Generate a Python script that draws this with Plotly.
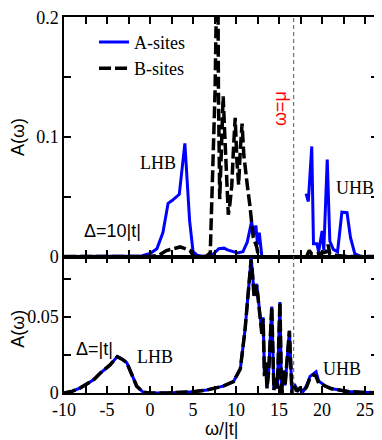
import plotly.graph_objects as go
from plotly.subplots import make_subplots

# top panel, Delta = 10|t|
x_a_top = [-10, -2, -1, 0, 0.8, 1.5, 2.1, 2.6, 3.4, 4.05, 4.6, 5.0, 5.5, 6.2, 7.2, 8.0, 8.6,
           9.0, 9.6, 10.2, 10.8, 11.3, 11.8, 12.1, 12.3, 12.5, 12.7, 13.0, None,
           18.14, 18.4, 18.8, 19.0, 19.4, 19.6, 20.0, 20.2, 20.6, 20.9, 21.3, 21.8, 22.3,
           22.9, 23.3, 23.8, 24.5, 26.5]
y_a_top = [0, 0, 0.0005, 0.0025, 0.0065, 0.02, 0.0445, 0.047, 0.052, 0.0946, 0.03, 0.004, 0.001,
           0, 0.001, 0.0065, 0.007, 0.0055, 0.004, 0.003, 0.004, 0.012, 0.029, 0.018, 0.026,
           0.01, 0.02, 0, None,
           0.0526, 0.046, 0.092, 0.0106, 0.0106, 0.004, 0.0214, 0.005, 0.081, 0.013, 0.006,
           0.004, 0.037, 0.0366, 0.016, 0.0024, 0, 0]

x_b_top = [-10, 0, 1.0, 1.9, 3.5, 4.65, 5.1, 6.5, 7.0, 7.2, 7.36, 7.56, 7.75, 7.85, 7.95, 8.1,
           8.3, 8.5, 8.7, 8.9, 9.1, 9.3, 9.5, 9.7, 9.9, 10.1, 10.3, 10.5, 10.7, 10.9, 11.1,
           11.3, 11.6, 12.0, 12.4, 12.6, None,
           18.2, 18.5, 18.8, 19.2, 20.0, 20.5, 20.7, 20.9, 21.5, 23.0, 26.5]
y_b_top = [0, 0, 0.001, 0.005, 0.008, 0.005, 0, 0, 0.003, 0.05, 0.092, 0.138, 0.23, 0.30, 0.14,
           0.048, 0.09, 0.134, 0.1, 0.06, 0.035, 0.045, 0.059, 0.09, 0.116, 0.08, 0.06, 0.09,
           0.111, 0.085, 0.07, 0.06, 0.043, 0.016, 0.008, 0, None,
           0, 0.005, 0.002, 0.002, 0.003, 0.004, 0.01, 0.002, 0.001, 0, 0]

# bottom panel, Delta = |t|
x_bot = [-10, -9, -8.1, -7.4, -6.5, -5.8, -4.65, -3.8, -3.3, -2.7, -2.1, -1.55, -0.8, 0, 2,
         3.5, 5, 6.6, 8.5, 9.7, 10.5, 11.05, 11.4, 11.75, 11.9, 12.1, 12.4, 12.6, 12.8, 13.0,
         13.15, 13.3, 13.45, 13.6, 13.8, 14.15, 14.4, 14.6, 14.8, 15.1, 15.3, 15.5, 15.7,
         15.9, 16.2, 16.5, 16.8, 17.1, 17.4, 17.8, 18.2, 18.6, 19.0, 19.3, 19.6, 20.0, 20.4,
         21.0, 22.0, 23.0, 24.5, 26.5]
y_a_bot = [0, 0.0012, 0.0034, 0.0056, 0.009, 0.013, 0.0185, 0.024, 0.0225, 0.02, 0.012, 0.0045,
           0.0005, 0, 0, 0.0002, 0.0008, 0.002, 0.0045, 0.0075, 0.016, 0.042, 0.068, 0.089,
           0.08, 0.064, 0.072, 0.06, 0.047, 0.04, 0.05, 0.012, 0.02, 0.004, 0.015, 0.057, 0.002,
           0.01, 0.003, 0.06, -0.004, 0.015, 0.005, 0.02, 0.041, 0.0, 0.006, 0.001, 0.003,
           0.001, 0.005, 0.011, 0.013, 0.014, 0.008, 0.006, 0.0045, 0.003, 0.002, 0.001,
           0.0005, 0]
y_b_bot = [0, 0.0012, 0.0034, 0.0056, 0.009, 0.013, 0.0185, 0.024, 0.0225, 0.02, 0.012, 0.0045,
           0.0005, 0, 0, 0.0002, 0.0008, 0.002, 0.0045, 0.0075, 0.016, 0.042, 0.068, 0.088,
           0.079, 0.063, 0.071, 0.059, 0.047, 0.039, 0.049, 0.011, 0.02, 0.003, 0.015, 0.057,
           0.002, 0.01, 0.003, 0.06, -0.005, 0.015, 0.005, 0.02, 0.041, 0.0, 0.006, 0.001,
           0.003, 0.001, 0.004, 0.01, 0.012, 0.011, 0.0065, 0.0055, 0.0045, 0.003, 0.002,
           0.001, 0.0005, 0]

x_ticks = [-10, -7.5, -5, -2.5, 0, 2.5, 5, 7.5, 10, 12.5, 15, 17.5, 20, 22.5, 25]
x_labels = ["-10", "", "-5", "", "0", "", "5", "", "10", "", "15", "", "20", "", "25"]
y_top_ticks = [0, 0.05, 0.1, 0.15, 0.2]
y_top_labels = ["0", "", "0.1", "", "0.2"]
y_bot_ticks = [0, 0.025, 0.05, 0.075]
y_bot_labels = ["0", "", "0.05", ""]

mu_line = 16.7

SERIF = "Liberation Serif, Times New Roman, serif"
SANS = "Liberation Sans, Arial, sans-serif"
BLUE = "#0000ff"
B_DASH = "12px,4px"

fig = make_subplots(rows=2, cols=1, shared_xaxes=True, vertical_spacing=0,
                    row_heights=[0.637, 0.363])

fig.add_trace(go.Scatter(x=x_a_top, y=y_a_top, mode="lines", name="A-sites",
                         line=dict(color=BLUE, width=3), connectgaps=False), row=1, col=1)
fig.add_trace(go.Scatter(x=x_b_top, y=y_b_top, mode="lines", name="B-sites",
                         line=dict(color="black", width=3.5, dash=B_DASH),
                         connectgaps=False), row=1, col=1)
fig.add_trace(go.Scatter(x=x_bot, y=y_a_bot, mode="lines", showlegend=False,
                         line=dict(color=BLUE, width=3)), row=2, col=1)
fig.add_trace(go.Scatter(x=x_bot, y=y_b_bot, mode="lines", showlegend=False,
                         line=dict(color="black", width=3.5, dash=B_DASH)), row=2, col=1)

axis_style = dict(showline=True, linecolor="black", linewidth=1.5, mirror="ticks",
                  ticks="inside", ticklen=7, tickwidth=1.5, tickcolor="black",
                  showgrid=False, zeroline=False, ticklabeloverflow="allow",
                  tickfont=dict(family=SERIF, size=18, color="black"))

fig.update_xaxes(range=[-10, 26.5], tickvals=x_ticks, ticktext=x_labels, **axis_style)
fig.update_xaxes(showticklabels=False, row=1, col=1)
fig.update_yaxes(range=[0, 0.2002], tickvals=y_top_ticks, ticktext=y_top_labels,
                 row=1, col=1, **axis_style)
fig.update_yaxes(range=[0, 0.09], tickvals=y_bot_ticks, ticktext=y_bot_labels,
                 row=2, col=1, **axis_style)

# the omega = mu line through both panels
fig.add_shape(type="line", xref="x", yref="paper", x0=mu_line, x1=mu_line, y0=0, y1=1,
              line=dict(color="#555555", width=1, dash="4px,3px"))

def note(text, x, y, xref="x", yref="y", font=SERIF, size=18, color="black", angle=0):
  fig.add_annotation(text=text, x=x, y=y, xref=xref, yref=yref, showarrow=False,
                     xanchor="center", yanchor="middle", textangle=angle,
                     font=dict(family=font, size=size, color=color))

note("LHB", 0.93, 0.078)
note("UHB", 23.84, 0.057)
note("Δ=10|t|", -4.42, 0.021, font=SANS)
note("ω=μ", 15.1, 0.124, font=SANS, color="red", angle=-90)
note("LHB", 0.58, 0.024, yref="y2")
note("UHB", 22.3, 0.0156, yref="y2")
note("Δ=|t|", -6.5, 0.029, yref="y2", font=SANS)
note("A(ω)", -0.146, 0.681, xref="paper", yref="paper", font=SANS, angle=-90)
note("A(ω)", -0.146, 0.171, xref="paper", yref="paper", font=SANS, angle=-90)
note("ω/|t|", 0.5, -0.097, xref="paper", yref="paper", font=SANS, size=18)

# page body has an 8px margin, so the figure is shifted up/left to compensate
fig.update_layout(
  width=374, height=432,
  margin=dict(l=56, r=4, t=0, b=47),
  plot_bgcolor="white", paper_bgcolor="white",
  legend=dict(x=0.0955, y=0.982, xanchor="left", yanchor="top", bgcolor="rgba(0,0,0,0)",
              font=dict(family=SERIF, size=18, color="black"), tracegroupgap=0,
              itemwidth=30),
)

fig.write_html("out.html")
